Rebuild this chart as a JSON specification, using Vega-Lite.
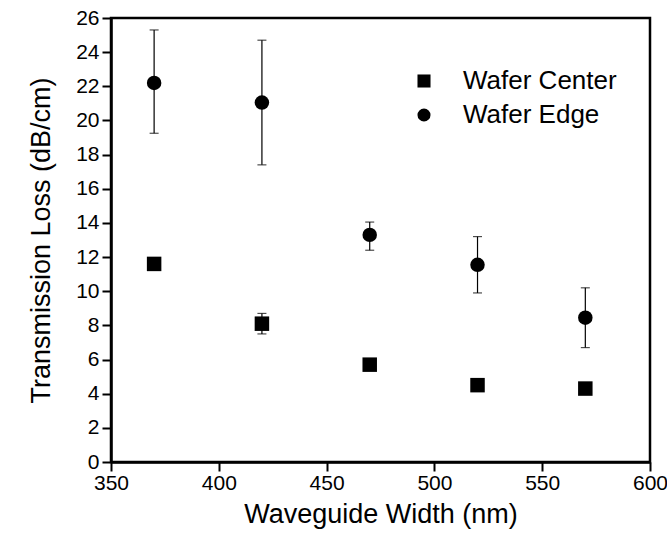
{
  "$schema": "https://vega.github.io/schema/vega-lite/v6.json",
  "width": 539,
  "height": 444,
  "autosize": "none",
  "padding": {"left": 111, "top": 18, "right": 17, "bottom": 79},
  "background": "white",
  "config": {
    "font": "Liberation Sans",
    "view": {"stroke": "black", "strokeWidth": 2.5},
    "axis": {"grid": false, "ticks": true, "domainColor": "black", "domainWidth": 2.5, "tickColor": "black", "tickWidth": 2, "tickSize": 9, "tickOpacity": 1, "labelColor": "black", "titleColor": "black", "labelFont": "Liberation Sans", "titleFont": "Liberation Sans", "labelFontSize": 21, "titleFontSize": 27, "titleFontWeight": "normal", "labelOverlap": false, "labelFlush": false}
  },
  "data": {"values": [
    {"width": 370, "loss": 11.6, "lo": 11.3, "hi": 11.9, "series": "Wafer Center"},
    {"width": 420, "loss": 8.1, "lo": 7.5, "hi": 8.7, "series": "Wafer Center"},
    {"width": 470, "loss": 5.7, "lo": 5.4, "hi": 6.0, "series": "Wafer Center"},
    {"width": 520, "loss": 4.5, "lo": 4.3, "hi": 4.7, "series": "Wafer Center"},
    {"width": 570, "loss": 4.3, "lo": 4.1, "hi": 4.5, "series": "Wafer Center"},
    {"width": 370, "loss": 22.2, "lo": 19.25, "hi": 25.3, "series": "Wafer Edge"},
    {"width": 420, "loss": 21.05, "lo": 17.4, "hi": 24.7, "series": "Wafer Edge"},
    {"width": 470, "loss": 13.3, "lo": 12.4, "hi": 14.05, "series": "Wafer Edge"},
    {"width": 520, "loss": 11.55, "lo": 9.9, "hi": 13.2, "series": "Wafer Edge"},
    {"width": 570, "loss": 8.45, "lo": 6.7, "hi": 10.2, "series": "Wafer Edge"}
  ]},
  "layer": [
    {
      "mark": {"type": "point", "filled": true, "opacity": 1, "color": "black", "size": 210},
      "encoding": {
        "x": {"field": "width", "type": "quantitative", "scale": {"domain": [350, 600], "nice": false},
          "axis": {"tickCount": 5, "labelOverlap": false, "labelFlush": false, "ticks": true, "tickSize": 9,
            "labelPadding": 1, "title": "Waveguide Width (nm)", "titlePadding": 8}},
        "y": {"field": "loss", "type": "quantitative", "scale": {"domain": [0, 26], "nice": false},
          "axis": {"tickCount": 13, "labelOverlap": false, "ticks": true, "tickSize": 9,
            "labelPadding": 3, "title": "Transmission Loss (dB/cm)", "titlePadding": 20}},
        "shape": {"field": "series", "type": "nominal",
          "scale": {"domain": ["Wafer Center", "Wafer Edge"], "range": ["square", "circle"]},
          "legend": {"title": null, "orient": "none", "legendX": 300, "legendY": 50, "labelFontSize": 26, "labelFont": "Liberation Sans", "labelColor": "black", "symbolSize": 170, "symbolFillColor": "black", "symbolStrokeColor": "black", "symbolOpacity": 1, "labelOffset": 26, "rowPadding": 8}}
      }
    },
    {
      "mark": {"type": "rule", "color": "black", "strokeWidth": 1.2},
      "encoding": {
        "x": {"field": "width", "type": "quantitative"},
        "y": {"field": "lo", "type": "quantitative"},
        "y2": {"field": "hi"}
      }
    },
    {
      "mark": {"type": "tick", "orient": "horizontal", "color": "black", "size": 9, "thickness": 1.2},
      "encoding": {
        "x": {"field": "width", "type": "quantitative"},
        "y": {"field": "lo", "type": "quantitative"}
      }
    },
    {
      "mark": {"type": "tick", "orient": "horizontal", "color": "black", "size": 9, "thickness": 1.2},
      "encoding": {
        "x": {"field": "width", "type": "quantitative"},
        "y": {"field": "hi", "type": "quantitative"}
      }
    }
  ]
}
